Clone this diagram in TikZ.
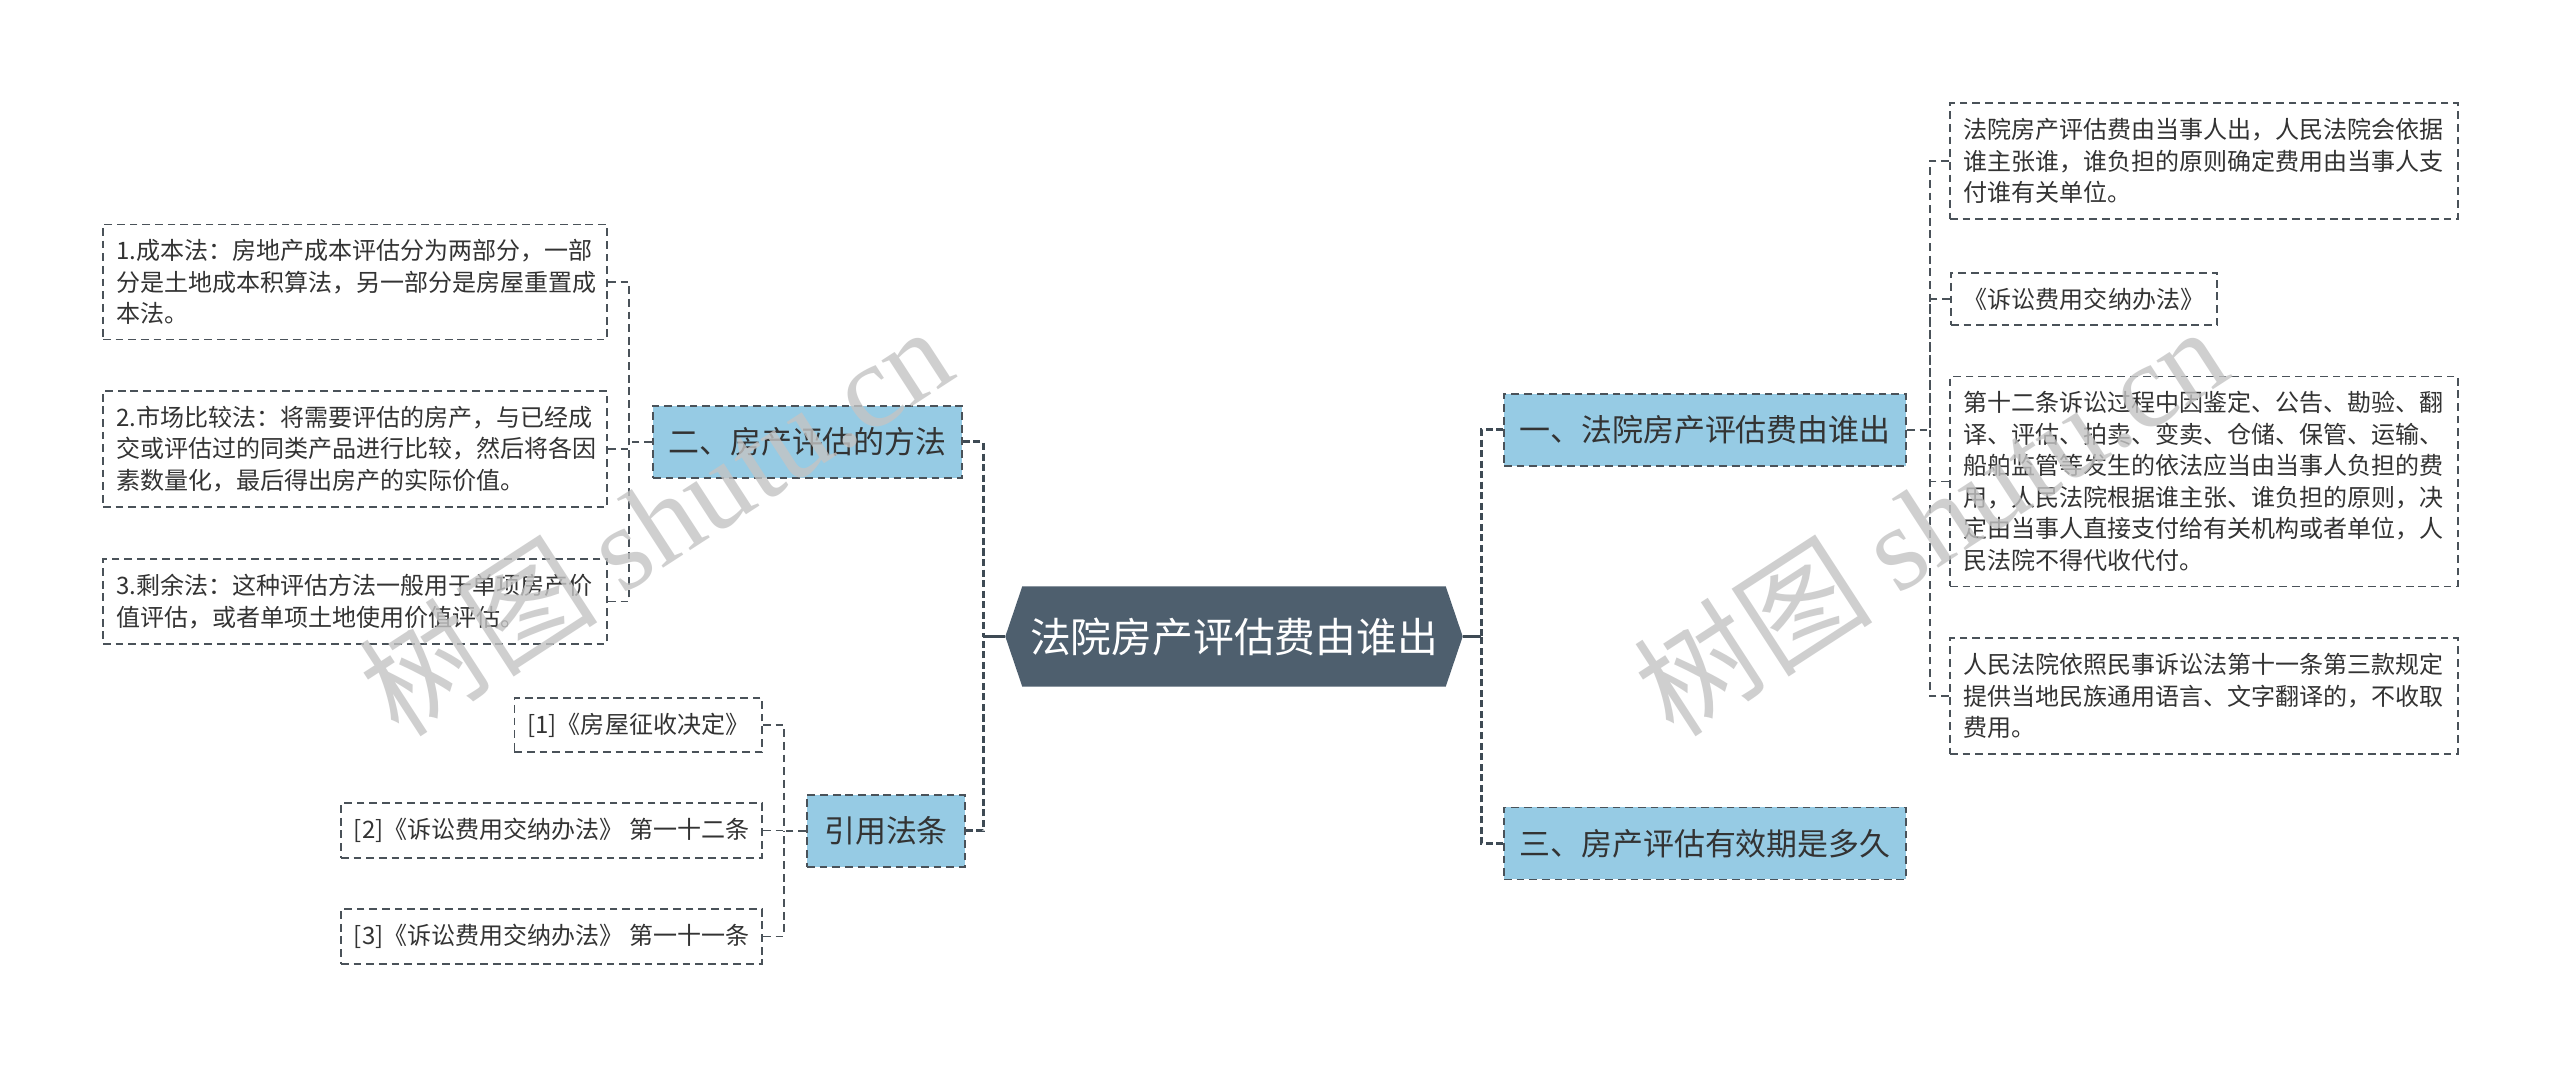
\documentclass[tikz,border=0pt]{standalone}
\usepackage{fontspec}
\setmainfont{Noto Sans CJK SC}
\newfontfamily\wmlatin{Liberation Serif}
\usetikzlibrary{positioning,calc,backgrounds}
\definecolor{RootSlate}{HTML}{4E5F6E}
\definecolor{TopicBlue}{HTML}{96CBE4}
\definecolor{LineSlate}{HTML}{3E4A54}
\definecolor{BoxEdge}{HTML}{4A5259}
\definecolor{LeafText}{HTML}{333333}
\definecolor{MarkGray}{HTML}{C4C4C4}
\newdimen\pxu \pxu=0.01cm
\tikzset{
  rootbox/.style={minimum width=456\pxu, minimum height=99\pxu, inner sep=0pt, text=white, font=\fontsize{11.6pt}{14pt}\selectfont},
  topic/.style={draw=BoxEdge, fill=TopicBlue, dash pattern=on 2.2pt off 1.4pt, line width=0.5pt, minimum height=72\pxu, inner xsep=15\pxu, text=LeafText, font=\fontsize{8.8pt}{10pt}\selectfont},
  leaf/.style={draw=BoxEdge, dash pattern=on 2.2pt off 1.4pt, line width=0.5pt, inner xsep=13\pxu, inner ysep=15\pxu, align=left, text=LeafText, font=\fontsize{6.83pt}{8.96pt}\selectfont},
  stem/.style={draw=LineSlate, line width=0.7pt},
  trunk/.style={draw=LineSlate, line width=0.85pt, dash pattern=on 2pt off 1pt},
  twig/.style={draw=BoxEdge, line width=0.5pt, dash pattern=on 2.2pt off 1.4pt},
  wmark/.style={text=MarkGray, opacity=0.8, rotate=33, font=\fontsize{34pt}{34pt}\selectfont}
}
\begin{document}
\begin{tikzpicture}[x=0.01cm, y=-0.01cm]
\useasboundingbox (0,0) rectangle (2560,1068);
\node[rootbox] (root) at (1234,636.5) {法院房产评估费由谁出};

\node[topic, minimum width=309\pxu] (n2) at (807.5,442) {二、房产评估的方法};
\node[topic, minimum width=158\pxu] (ref) at (886,831) {引用法条};
\node[topic, minimum width=402\pxu] (n1) at (1705,430) {一、法院房产评估费由谁出};
\node[topic, minimum width=402\pxu] (n3) at (1705,843.5) {三、房产评估有效期是多久};

\node[leaf, text width=478\pxu] (a1) at (355,282) {1.成本法：房地产成本评估分为两部分，一部\\分是土地成本积算法，另一部分是房屋重置成\\本法。};
\node[leaf, text width=478\pxu] (a2) at (355,449) {2.市场比较法：将需要评估的房产，与已经成\\交或评估过的同类产品进行比较，然后将各因\\素数量化，最后得出房产的实际价值。};
\node[leaf, text width=478\pxu] (a3) at (355,601.5) {3.剩余法：这种评估方法一般用于单项房产价\\值评估，或者单项土地使用价值评估。};

\node[leaf, anchor=east] (c1) at (763,725) {[1]《房屋征收决定》};
\node[leaf, anchor=east] (c2) at (763,830.5) {[2]《诉讼费用交纳办法》 第一十二条};
\node[leaf, anchor=east] (c3) at (763,936.5) {[3]《诉讼费用交纳办法》 第一十一条};

\node[leaf, text width=482\pxu] (b1) at (2204,161) {法院房产评估费由当事人出，人民法院会依据\\谁主张谁，谁负担的原则确定费用由当事人支\\付谁有关单位。};
\node[leaf, anchor=west] (b2) at (1950,299) {《诉讼费用交纳办法》};
\node[leaf, text width=482\pxu] (b3) at (2204,481.5) {第十二条诉讼过程中因鉴定、公告、勘验、翻\\译、评估、拍卖、变卖、仓储、保管、运输、\\船舶监管等发生的依法应当由当事人负担的费\\用，人民法院根据谁主张、谁负担的原则，决\\定由当事人直接支付给有关机构或者单位，人\\民法院不得代收代付。};
\node[leaf, text width=482\pxu] (b4) at (2204,696) {人民法院依照民事诉讼法第十一条第三款规定\\提供当地民族通用语言、文字翻译的，不收取\\费用。};

\coordinate (jl) at (983,636.5);
\coordinate (jr) at (1481,636.5);
\draw[stem] (root.west) -- (jl);
\draw[stem] (root.east) -- (jr);
\draw[trunk] (n2.east) -| (jl);
\draw[trunk] (ref.east) -| (jl);
\draw[trunk] (n1.west) -| (jr);
\draw[trunk] (n3.west) -| (jr);

\coordinate (ja) at (629,442);
\coordinate (jc) at (784,831);
\coordinate (jb) at (1930,430);
\draw[twig] (n2.west) -- (ja);
\draw[twig] (ref.west) -- (jc);
\draw[twig] (n1.east) -- (jb);
\foreach \k in {a1,a2,a3} \draw[twig] (\k.east) -| (ja);
\foreach \k in {c1,c2,c3} \draw[twig] (\k.east) -| (jc);
\foreach \k in {b1,b2,b3,b4} \draw[twig] (\k.west) -| (jb);

\begin{scope}[on background layer]
\fill[white] (0,0) rectangle (2560,1068);
\fill[RootSlate] (root.west) -- ($(root.north west)+(17,0)$) -- ($(root.north east)+(-17,0)$) -- (root.east) -- ($(root.south east)+(-17,0)$) -- ($(root.south west)+(17,0)$) -- cycle;
\end{scope}

\node[wmark] (wm1) at (655,520) {树图 {\wmlatin shutu.cn}};
\node[wmark] (wm2) at (1930,520) {树图 {\wmlatin shutu.cn}};
\end{tikzpicture}
\end{document}
